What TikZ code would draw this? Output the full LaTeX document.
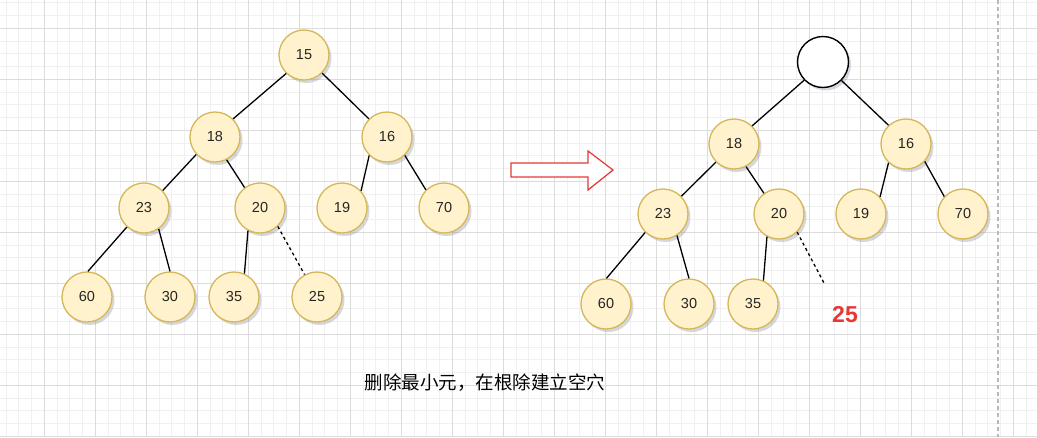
\documentclass[tikz,border=0pt]{standalone}
\usepackage{fontspec}
\setmainfont{Liberation Sans}
\newfontfamily\cjk{Noto Sans CJK SC}
\usetikzlibrary{shadows}
\definecolor{hfill}{HTML}{FFF2CC}
\definecolor{hborder}{HTML}{D6B656}
\definecolor{gminor}{HTML}{F0F0F0}
\definecolor{gmajor}{HTML}{DCDCDC}
\definecolor{redc}{HTML}{E53935}
\definecolor{dashg}{HTML}{B8B8B8}
\definecolor{shadowc}{HTML}{8A90A8}
\tikzset{
  hn/.style={circle, minimum size=50pt, inner sep=0pt, fill=hfill, draw=hborder, line width=1.3pt,
    font=\fontsize{14.5}{14.5}\selectfont, text=black!85,
    drop shadow={shadow xshift=2.5pt, shadow yshift=-3pt, opacity=0.35, fill=shadowc}},
  holenode/.style={circle, minimum size=51pt, inner sep=0pt, fill=white, draw=black, line width=1.4pt,
    drop shadow={shadow xshift=2.5pt, shadow yshift=-3pt, opacity=0.35, fill=shadowc}},
  edge/.style={line width=1.3pt, black},
  dedge/.style={line width=1.3pt, black, dash pattern=on 3pt off 3pt},
  minorline/.style={gminor, line width=0.8pt},
  majorline/.style={gmajor, line width=1pt},
}
\begin{document}
\begin{tikzpicture}[x=1pt, y=-1pt]
\useasboundingbox (0,0) rectangle (1037,437);
\fill[white] (0,0) rectangle (1037,437);
% grid
\foreach \i in {-3,...,78} {\draw[minorline] ({44.3+\i*12.75},0) -- ({44.3+\i*12.75},437);}
\foreach \j in {-2,...,33} {\draw[minorline] (0,{28.3+\j*12.75}) -- (1037,{28.3+\j*12.75});}
\foreach \i in {0,...,19} {\draw[majorline] ({44.3+\i*51},0) -- ({44.3+\i*51},437);}
\foreach \j in {0,...,8} {\draw[majorline] (0,{28.3+\j*51}) -- (1037,{28.3+\j*51});}
\draw[dashg, line width=1.5pt, dash pattern=on 4pt off 3pt] (998,0) -- (998,437);

% left tree
\node[hn] (a15) at (304,55) {15};
\node[hn] (a18) at (215,137) {18};
\node[hn] (a16) at (387,137) {16};
\node[hn] (a23) at (144,208) {23};
\node[hn] (a20) at (260,208) {20};
\node[hn] (a19) at (342,208) {19};
\node[hn] (a70) at (444,208) {70};
\node[hn] (a60) at (87,297) {60};
\node[hn] (a30) at (170,297) {30};
\node[hn] (a35) at (234,297) {35};
\node[hn] (a25) at (317,297) {25};
\draw[edge] (a15.226) -- (a18.45);
\draw[edge] (a15.315) -- (a16.135);
\draw[edge] (a18.223) -- (a23.43);
\draw[edge] (a18.297) -- (a20.127);
\draw[edge] (a16.226) -- (a19.42);
\draw[edge] (a16.314) -- (a70.135);
\draw[edge] (a23.228) -- (a60.88);
\draw[edge] (a23.305) -- (a30.90);
\draw[edge] (a20.242) -- (a35.66);
\draw[dedge] (a20.314) -- (a25.119);

% arrow
\draw[redc, line width=1.2pt, fill=white, line join=miter]
  (511,163) -- (588,163) -- (588,151) -- (613,170) -- (588,190) -- (588,177) -- (511,177) -- cycle;

% right tree
\node[holenode] (broot) at (823,62) {};
\node[hn] (b18) at (734,144) {18};
\node[hn] (b16) at (906,144) {16};
\node[hn] (b23) at (663,214) {23};
\node[hn] (b20) at (779,214) {20};
\node[hn] (b19) at (861,214) {19};
\node[hn] (b70) at (963,214) {70};
\node[hn] (b60) at (606,304) {60};
\node[hn] (b30) at (689,304) {30};
\node[hn] (b35) at (753,304) {35};
\coordinate (bend) at (824,283);
\node[text=redc, font=\fontsize{23}{23}\selectfont\bfseries] (b25) at (845,315) {25};
\draw[edge] (broot.224) -- (b18.45);
\draw[edge] (broot.315) -- (b16.133);
\draw[edge] (b18.225) -- (b23.44);
\draw[edge] (b18.298) -- (b20.126);
\draw[edge] (b16.227) -- (b19.42);
\draw[edge] (b16.317) -- (b70.137);
\draw[edge] (b23.226) -- (b60.89);
\draw[edge] (b23.303) -- (b30.90);
\draw[edge] (b20.242) -- (b35.66);
\draw[dedge] (b20.315) -- (bend);

% caption
\node[font=\cjk\fontsize{18.5}{18.5}\selectfont, text=black] (cap) at (485,383) {删除最小元，在根除建立空穴};
\end{tikzpicture}
\end{document}
